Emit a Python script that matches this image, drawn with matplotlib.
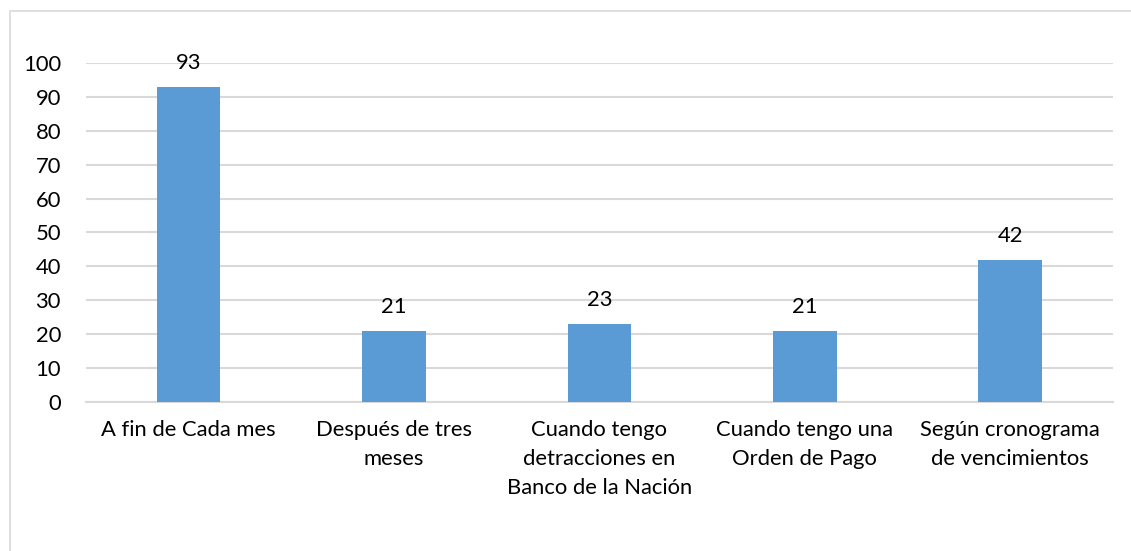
import matplotlib
matplotlib.use('Agg')
import matplotlib.pyplot as plt
from matplotlib.patches import Rectangle

plt.rcParams['font.family'] = ['Lato', 'DejaVu Sans']

# Data
categorias = ['A fin de Cada mes',
              'Después de tres\nmeses',
              'Cuando tengo\ndetracciones en\nBanco de la Nación',
              'Cuando tengo una\nOrden de Pago',
              'Según cronograma\nde vencimientos']
valores = [93, 21, 23, 21, 42]
yticks = list(range(0, 101, 10))

fig = plt.figure(figsize=(11.31, 5.51), dpi=100)
ax = fig.add_axes([0.076, 0.2704, 0.908, 0.6153])

# chart border (light gray frame running off the right/bottom edges)
fig.patches.append(Rectangle((10 / 1131, -0.05), 1.2, 1 - 11 / 551 + 0.05,
                             transform=fig.transFigure, fill=False,
                             edgecolor='#D9D9D9', linewidth=1.2))

x = range(len(categorias))
bars = ax.bar(x, valores, width=0.31, color='#5B9BD5', zorder=3)
for b, v in zip(bars, valores):
    ax.annotate(str(v), (b.get_x() + b.get_width() / 2, v),
                xytext=(0, 10), textcoords='offset points',
                ha='center', va='bottom', fontsize=15.8, color='#000000')

ax.set_xlim(-0.5, len(categorias) - 0.5)
ax.set_ylim(0, 100)
ax.set_yticks(yticks)
ax.set_xticks(list(x))
ax.set_xticklabels(categorias, fontsize=15.8, linespacing=1.55, va='top')
ax.tick_params(axis='y', labelsize=15.8, length=0, pad=18)
ax.tick_params(axis='x', length=0, pad=13)
ax.yaxis.grid(True, color='#D9D9D9', linewidth=1.5, zorder=0)
for s in ['top', 'right', 'left']:
    ax.spines[s].set_visible(False)
ax.spines['bottom'].set_color('#D9D9D9')
ax.spines['bottom'].set_linewidth(1.5)

plt.savefig('out.png', dpi=100)
